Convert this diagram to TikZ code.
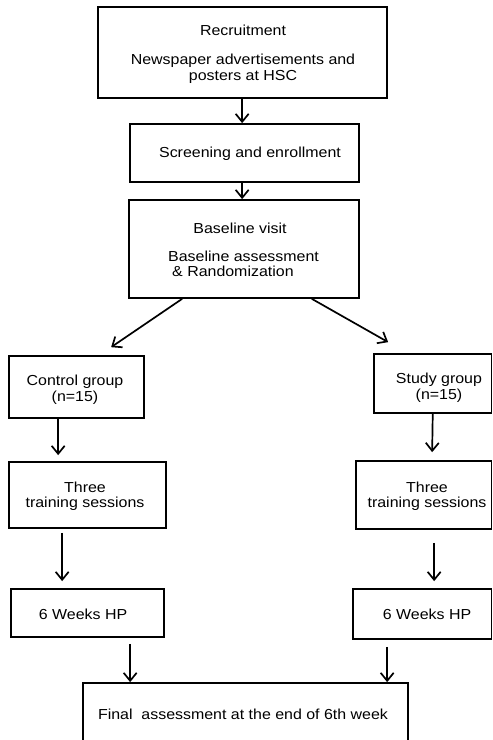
\documentclass[tikz,border=0pt]{standalone}
\usepackage{fontspec}
\setmainfont[FakeStretch=1.1]{Liberation Sans}
\usetikzlibrary{arrows.meta,calc}
\begin{document}
\begin{tikzpicture}[x=1pt,y=-1pt,
  box/.style={draw, line width=1.7pt, inner sep=0pt},
  lbl/.style={align=center, inner sep=0pt, font=\fontsize{14.5}{15.5}\selectfont},
  arr/.style={line width=1.7pt, -{Straight Barb[length=8pt,width=13pt]}}]
\useasboundingbox (0,0) rectangle (493,740);
\clip (0,0) rectangle (493,740);
% boxes
\node[box, minimum width=289pt, minimum height=91pt] (rec) at (242.5,52.5) {};
\node[box, minimum width=229pt, minimum height=58pt] (scr) at (244.5,153) {};
\node[box, minimum width=230pt, minimum height=98pt] (base) at (244,249) {};
\node[box, minimum width=135pt, minimum height=62pt] (ctrl) at (76.5,387) {};
\node[box, minimum width=117.5pt, minimum height=59pt] (study) at (432.75,383.5) {};
\node[box, minimum width=157pt, minimum height=66pt] (trL) at (87.5,495) {};
\node[box, minimum width=135.5pt, minimum height=68pt] (trR) at (423.75,495) {};
\node[box, minimum width=153pt, minimum height=48pt] (hpL) at (87.5,613) {};
\node[box, minimum width=138.5pt, minimum height=50pt] (hpR) at (422.25,614) {};
\node[box, minimum width=325pt, minimum height=80pt] (fin) at (245.5,723) {};
% labels
\node[lbl] (recT) at (243,54) {Recruitment\\[14pt]Newspaper advertisements and\\posters at HSC};
\node[lbl] (scrT) at (250,154) {Screening and enrollment};
\node[lbl] (blvT) at (240,228) {Baseline visit};
\node[lbl, align=left, anchor=west] (blaT) at (168,264) {Baseline assessment\\\hspace*{4pt}\& Randomization};
\node[lbl] (ctrlT) at (75,389.5) {Control group\\(n=15)};
\node[lbl] (studyT) at (439,387.5) {Study group\\(n=15)};
\node[lbl] (trLT) at (85,496) {Three\\training sessions};
\node[lbl] (trRT) at (427,496) {Three\\training sessions};
\node[lbl] (hpLT) at (83,614) {6 Weeks HP};
\node[lbl] (hpRT) at (427,614) {6 Weeks HP};
\node[lbl] (finT) at (243,714) {Final\ \ assessment at the end of 6th week};
% connectors
\draw[arr] ($(rec.south west)+(145,0)$) -- ($(scr.north west)+(113,0)$);
\draw[arr] ($(scr.south west)+(113,0)$) -- ($(base.north west)+(114,0)$);
\draw[arr] ($(base.south west)+(54,0)$) -- ($(ctrl.north west)+(103,-8)$);
\draw[arr] ($(base.south east)+(-48,0)$) -- ($(study.north west)+(15,-11)$);
\draw[arr] ($(ctrl.south west)+(50,0)$) -- ($(trL.north west)+(50,-6)$);
\draw[arr] (study.south) -- ($(trR.north west)+(77,-8)$);
\draw[arr] ($(trL.south west)+(54,4)$) -- ($(hpL.north west)+(52,-7)$);
\draw[arr] ($(trR.south west)+(79,13)$) -- ($(hpR.north west)+(82,-7)$);
\draw[arr] ($(hpL.south west)+(120,6)$) -- ($(fin.north west)+(48,0)$);
\draw[arr] ($(hpR.south west)+(35,7)$) -- ($(fin.north west)+(305,0)$);
\end{tikzpicture}
\end{document}
